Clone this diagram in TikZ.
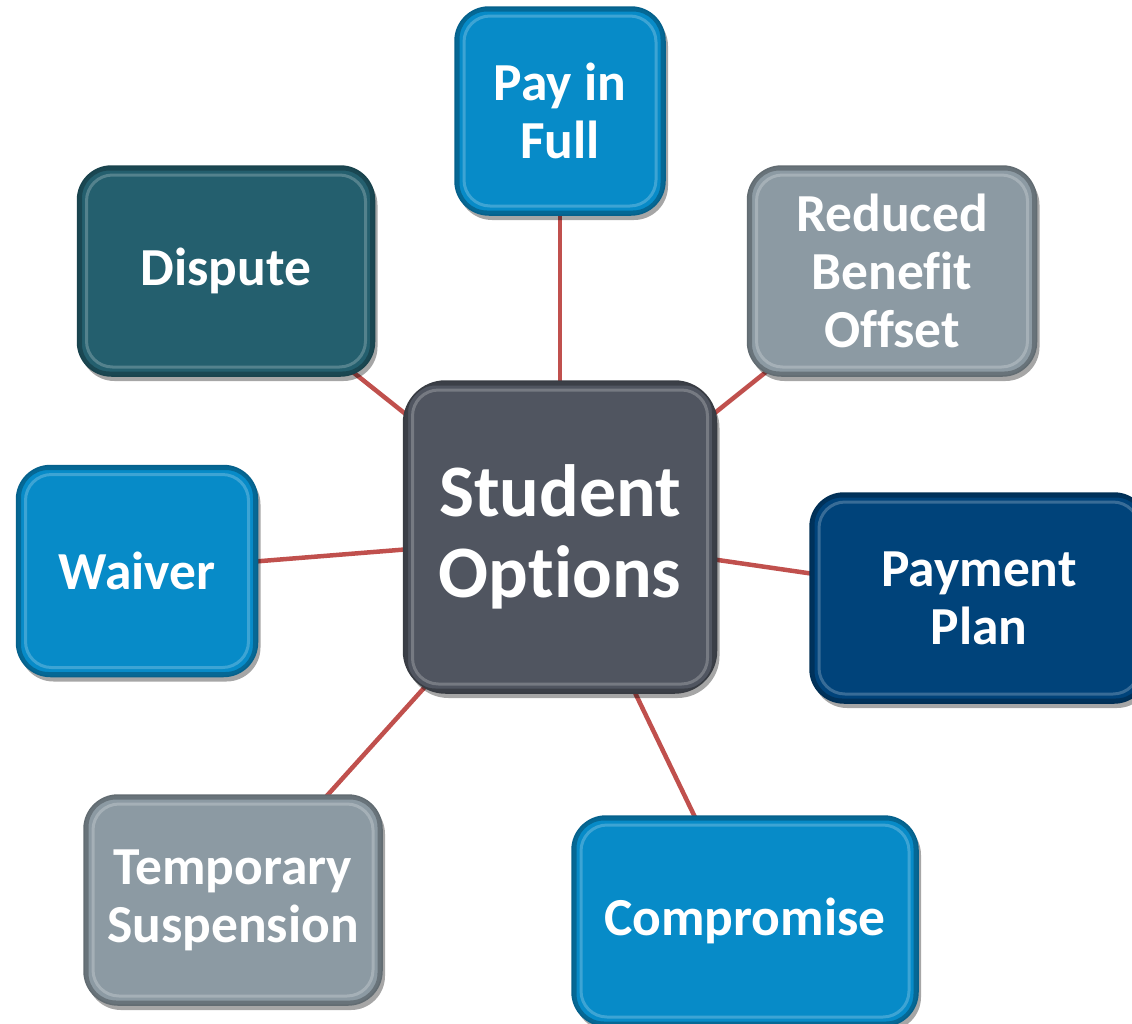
\documentclass[tikz,border=0pt]{standalone}
\usepackage{fontspec}
\setmainfont{Carlito}[Ligatures={NoCommon}]
\usetikzlibrary{shadows,backgrounds}
\definecolor{cgray}{HTML}{505560}
\definecolor{cblue}{HTML}{078BC8}
\definecolor{cslate}{HTML}{8C9AA3}
\definecolor{cteal}{HTML}{245F6E}
\definecolor{cnavy}{HTML}{00437A}
\definecolor{cline}{HTML}{C0504D}
\tikzset{
  optbox/.style={rounded corners=34pt, text=white, align=center,
    font=\bfseries\fontsize{53.5}{58}\selectfont, inner sep=0pt,
    draw=#1!70!black, line width=1.5pt, fill=#1,
    drop shadow={shadow xshift=3pt, shadow yshift=-5pt, opacity=0.35, fill=black},
    path picture={
      \draw[white, opacity=0.22, line width=3pt, rounded corners=26pt]
        ([shift={(9pt,-9pt)}]path picture bounding box.north west) rectangle
        ([shift={(-9pt,9pt)}]path picture bounding box.south east);
      \draw[black, opacity=0.25, line width=5pt, rounded corners=30pt]
        ([shift={(2pt,-2pt)}]path picture bounding box.north west) rectangle
        ([shift={(-2pt,2pt)}]path picture bounding box.south east);
    }},
  link/.style={cline, line width=4.5pt}
}
\begin{document}
\begin{tikzpicture}[x=1pt,y=-1pt]
\useasboundingbox (0,0) rectangle (1132,1023);
\node[optbox=cgray, rounded corners=42pt, minimum width=313pt, minimum height=312pt,
  font=\bfseries\fontsize{74}{81}\selectfont] (c) at (560,537) {Student\\Options};
\node[optbox=cblue, minimum width=210pt, minimum height=208pt] (pay) at (560,111) {Pay in\\Full};
\node[optbox=cslate, minimum width=289pt, minimum height=210pt] (red) at (892,271) {Reduced\\Benefit\\Offset};
\node[optbox=cteal, minimum width=297pt, minimum height=210pt] (dis) at (226,271) {Dispute};
\node[optbox=cblue, minimum width=241pt, minimum height=211pt] (wai) at (137,571) {Waiver};
\node[optbox=cnavy, minimum width=338pt, minimum height=210pt] (pp) at (979,598) {Payment\\Plan};
\node[optbox=cslate, minimum width=298pt, minimum height=210pt] (tmp) at (233,900) {Temporary\\Suspension};
\node[optbox=cblue, minimum width=346pt, minimum height=210pt] (comp) at (745,921) {Compromise};
\begin{scope}[on background layer]
\draw[link] (c.center) -- (pay.center);
\draw[link] (c.center) -- (red.center);
\draw[link] (c.center) -- (dis.center);
\draw[link] (c.center) -- (wai.center);
\draw[link] (c.center) -- (pp.center);
\draw[link] (c.center) -- (tmp.center);
\draw[link] (c.center) -- (comp.center);
\end{scope}
\end{tikzpicture}
\end{document}
